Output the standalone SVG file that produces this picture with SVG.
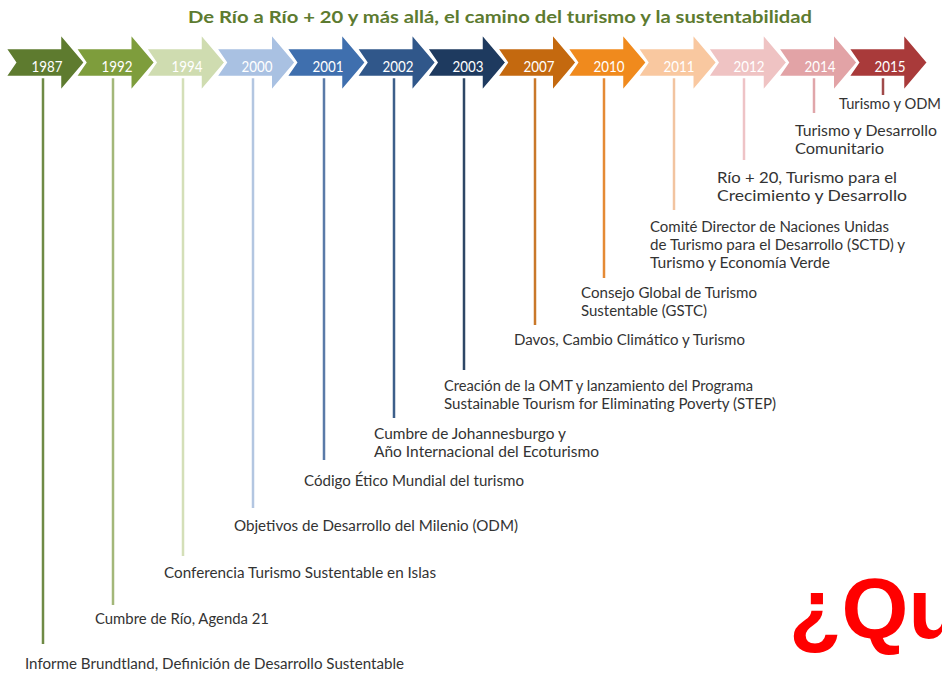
<svg xmlns="http://www.w3.org/2000/svg" xmlns:xlink="http://www.w3.org/1999/xlink" width="942" height="674" viewBox="0 0 942 674">
  <style>
    .title { font-family: Lato, "Open Sans", "Liberation Sans", sans-serif; font-weight: bold; font-size: 17.5px; fill: #5d7b30; }
    .year { font-family: Lato, "Open Sans", "Liberation Sans", sans-serif; font-size: 16px; fill: #ffffff; text-anchor: middle; }
    .ev { font-family: Lato, "Open Sans", "Liberation Sans", sans-serif; font-size: 14.5px; fill: #333333; }
    .arrow { stroke: #ffffff; stroke-width: 2.5; stroke-linejoin: miter; }
    .link { stroke-width: 2.5; fill: none; }
    .q { font-family: "Liberation Sans", Arial, sans-serif; font-weight: bold; font-size: 86px; fill: #ff0000; }
  </style>
  <defs>
    <!-- chevron arrow, drawn at x = 0 -->
    <path id="arrow" d="M0,48 H55 V33 L80,62.5 L55,92 V77 H0 L10,62.5 Z"/>
  </defs>

  <rect width="942" height="674" fill="#ffffff"/>

  <text class="title" x="188" y="23" textLength="624" lengthAdjust="spacingAndGlyphs">De Río a Río + 20 y más allá, el camino del turismo y la sustentabilidad</text>

  <!-- vertical leaders from each year to its event -->
  <g id="connectors">
    <line class="link" x1="43" y1="78" x2="43" y2="644" stroke="#6f8a45"/>
    <line class="link" x1="113" y1="78" x2="113" y2="605" stroke="#a3b779"/>
    <line class="link" x1="183" y1="78" x2="183" y2="556" stroke="#d4dfb8"/>
    <line class="link" x1="253" y1="78" x2="253" y2="508" stroke="#b3c6e1"/>
    <line class="link" x1="324" y1="78" x2="324" y2="460" stroke="#5a7aa8"/>
    <line class="link" x1="394" y1="78" x2="394" y2="418" stroke="#3d5f8a"/>
    <line class="link" x1="464" y1="78" x2="464" y2="370" stroke="#2e4766"/>
    <line class="link" x1="535" y1="78" x2="535" y2="325" stroke="#c9782a"/>
    <line class="link" x1="604" y1="78" x2="604" y2="278" stroke="#e58a35"/>
    <line class="link" x1="674" y1="78" x2="674" y2="210" stroke="#f2c4a0"/>
    <line class="link" x1="744" y1="78" x2="744" y2="160" stroke="#eec3c6"/>
    <line class="link" x1="814" y1="78" x2="814" y2="113" stroke="#e0a6aa"/>
    <line class="link" x1="883" y1="78" x2="883" y2="95" stroke="#a04a4a"/>
  </g>

  <g id="n1987">
    <use xlink:href="#arrow" class="arrow" x="5" fill="#5e7b2f"/>
    <text class="year" x="47" y="72" textLength="31" lengthAdjust="spacingAndGlyphs">1987</text>
    <text class="ev" x="25" y="669" textLength="379" lengthAdjust="spacingAndGlyphs">Informe Brundtland, Definición de Desarrollo Sustentable</text>
  </g>
  <g id="n1992">
    <use xlink:href="#arrow" class="arrow" x="75.25" fill="#7e9d3c"/>
    <text class="year" x="117" y="72" textLength="31" lengthAdjust="spacingAndGlyphs">1992</text>
    <text class="ev" x="95" y="624" textLength="174" lengthAdjust="spacingAndGlyphs">Cumbre de Río, Agenda 21</text>
  </g>
  <g id="n1994">
    <use xlink:href="#arrow" class="arrow" x="145.5" fill="#cfdcb0"/>
    <text class="year" x="187" y="72" textLength="31" lengthAdjust="spacingAndGlyphs">1994</text>
    <text class="ev" x="164" y="578" textLength="272" lengthAdjust="spacingAndGlyphs">Conferencia Turismo Sustentable en Islas</text>
  </g>
  <g id="n2000">
    <use xlink:href="#arrow" class="arrow" x="215.75" fill="#a9c1e2"/>
    <text class="year" x="257" y="72" textLength="31" lengthAdjust="spacingAndGlyphs">2000</text>
    <text class="ev" x="234" y="531" textLength="284" lengthAdjust="spacingAndGlyphs">Objetivos de Desarrollo del Milenio (ODM)</text>
  </g>
  <g id="n2001">
    <use xlink:href="#arrow" class="arrow" x="286" fill="#3f6fae"/>
    <text class="year" x="328" y="72" textLength="31" lengthAdjust="spacingAndGlyphs">2001</text>
    <text class="ev" x="304" y="486" textLength="220" lengthAdjust="spacingAndGlyphs">Código Ético Mundial del turismo</text>
  </g>
  <g id="n2002">
    <use xlink:href="#arrow" class="arrow" x="356.25" fill="#30578a"/>
    <text class="year" x="398" y="72" textLength="31" lengthAdjust="spacingAndGlyphs">2002</text>
    <text class="ev" x="374" y="439" textLength="192" lengthAdjust="spacingAndGlyphs">Cumbre de Johannesburgo y</text>
    <text class="ev" x="374" y="457" textLength="225" lengthAdjust="spacingAndGlyphs">Año Internacional del Ecoturismo</text>
  </g>
  <g id="n2003">
    <use xlink:href="#arrow" class="arrow" x="426.5" fill="#1e3a5f"/>
    <text class="year" x="468" y="72" textLength="31" lengthAdjust="spacingAndGlyphs">2003</text>
    <text class="ev" x="444" y="391" textLength="309" lengthAdjust="spacingAndGlyphs">Creación de la OMT y lanzamiento del Programa</text>
    <text class="ev" x="444" y="409" textLength="332" lengthAdjust="spacingAndGlyphs">Sustainable Tourism for Eliminating Poverty (STEP)</text>
  </g>
  <g id="n2007">
    <use xlink:href="#arrow" class="arrow" x="496.75" fill="#c4690f"/>
    <text class="year" x="539" y="72" textLength="31" lengthAdjust="spacingAndGlyphs">2007</text>
    <text class="ev" x="514" y="345" textLength="231" lengthAdjust="spacingAndGlyphs">Davos, Cambio Climático y Turismo</text>
  </g>
  <g id="n2010">
    <use xlink:href="#arrow" class="arrow" x="567" fill="#f08a1d"/>
    <text class="year" x="609" y="72" textLength="31" lengthAdjust="spacingAndGlyphs">2010</text>
    <text class="ev" x="581" y="298" textLength="176" lengthAdjust="spacingAndGlyphs">Consejo Global de Turismo</text>
    <text class="ev" x="581" y="316" textLength="126" lengthAdjust="spacingAndGlyphs">Sustentable (GSTC)</text>
  </g>
  <g id="n2011">
    <use xlink:href="#arrow" class="arrow" x="637.25" fill="#f9c8a0"/>
    <text class="year" x="679" y="72" textLength="31" lengthAdjust="spacingAndGlyphs">2011</text>
    <text class="ev" x="650" y="232" textLength="239" lengthAdjust="spacingAndGlyphs">Comité Director de Naciones Unidas</text>
    <text class="ev" x="650" y="250" textLength="255" lengthAdjust="spacingAndGlyphs">de Turismo para el Desarrollo (SCTD) y</text>
    <text class="ev" x="650" y="268" textLength="180" lengthAdjust="spacingAndGlyphs">Turismo y Economía Verde</text>
  </g>
  <g id="n2012">
    <use xlink:href="#arrow" class="arrow" x="707.5" fill="#efc3c3"/>
    <text class="year" x="749" y="72" textLength="31" lengthAdjust="spacingAndGlyphs">2012</text>
    <text class="ev" x="717" y="183" textLength="180" lengthAdjust="spacingAndGlyphs">Río + 20, Turismo para el</text>
    <text class="ev" x="717" y="201" textLength="190" lengthAdjust="spacingAndGlyphs">Crecimiento y Desarrollo</text>
  </g>
  <g id="n2014">
    <use xlink:href="#arrow" class="arrow" x="777.75" fill="#e2a3a6"/>
    <text class="year" x="820" y="72" textLength="31" lengthAdjust="spacingAndGlyphs">2014</text>
    <text class="ev" x="795" y="136" textLength="142" lengthAdjust="spacingAndGlyphs">Turismo y Desarrollo</text>
    <text class="ev" x="795" y="154" textLength="89" lengthAdjust="spacingAndGlyphs">Comunitario</text>
  </g>
  <g id="n2015">
    <use xlink:href="#arrow" class="arrow" x="848" fill="#a93a3a"/>
    <text class="year" x="890" y="72" textLength="31" lengthAdjust="spacingAndGlyphs">2015</text>
    <text class="ev" x="839" y="109" textLength="102" lengthAdjust="spacingAndGlyphs">Turismo y ODM</text>
  </g>

  <text class="q" x="789" y="638">¿Qu</text>
</svg>
